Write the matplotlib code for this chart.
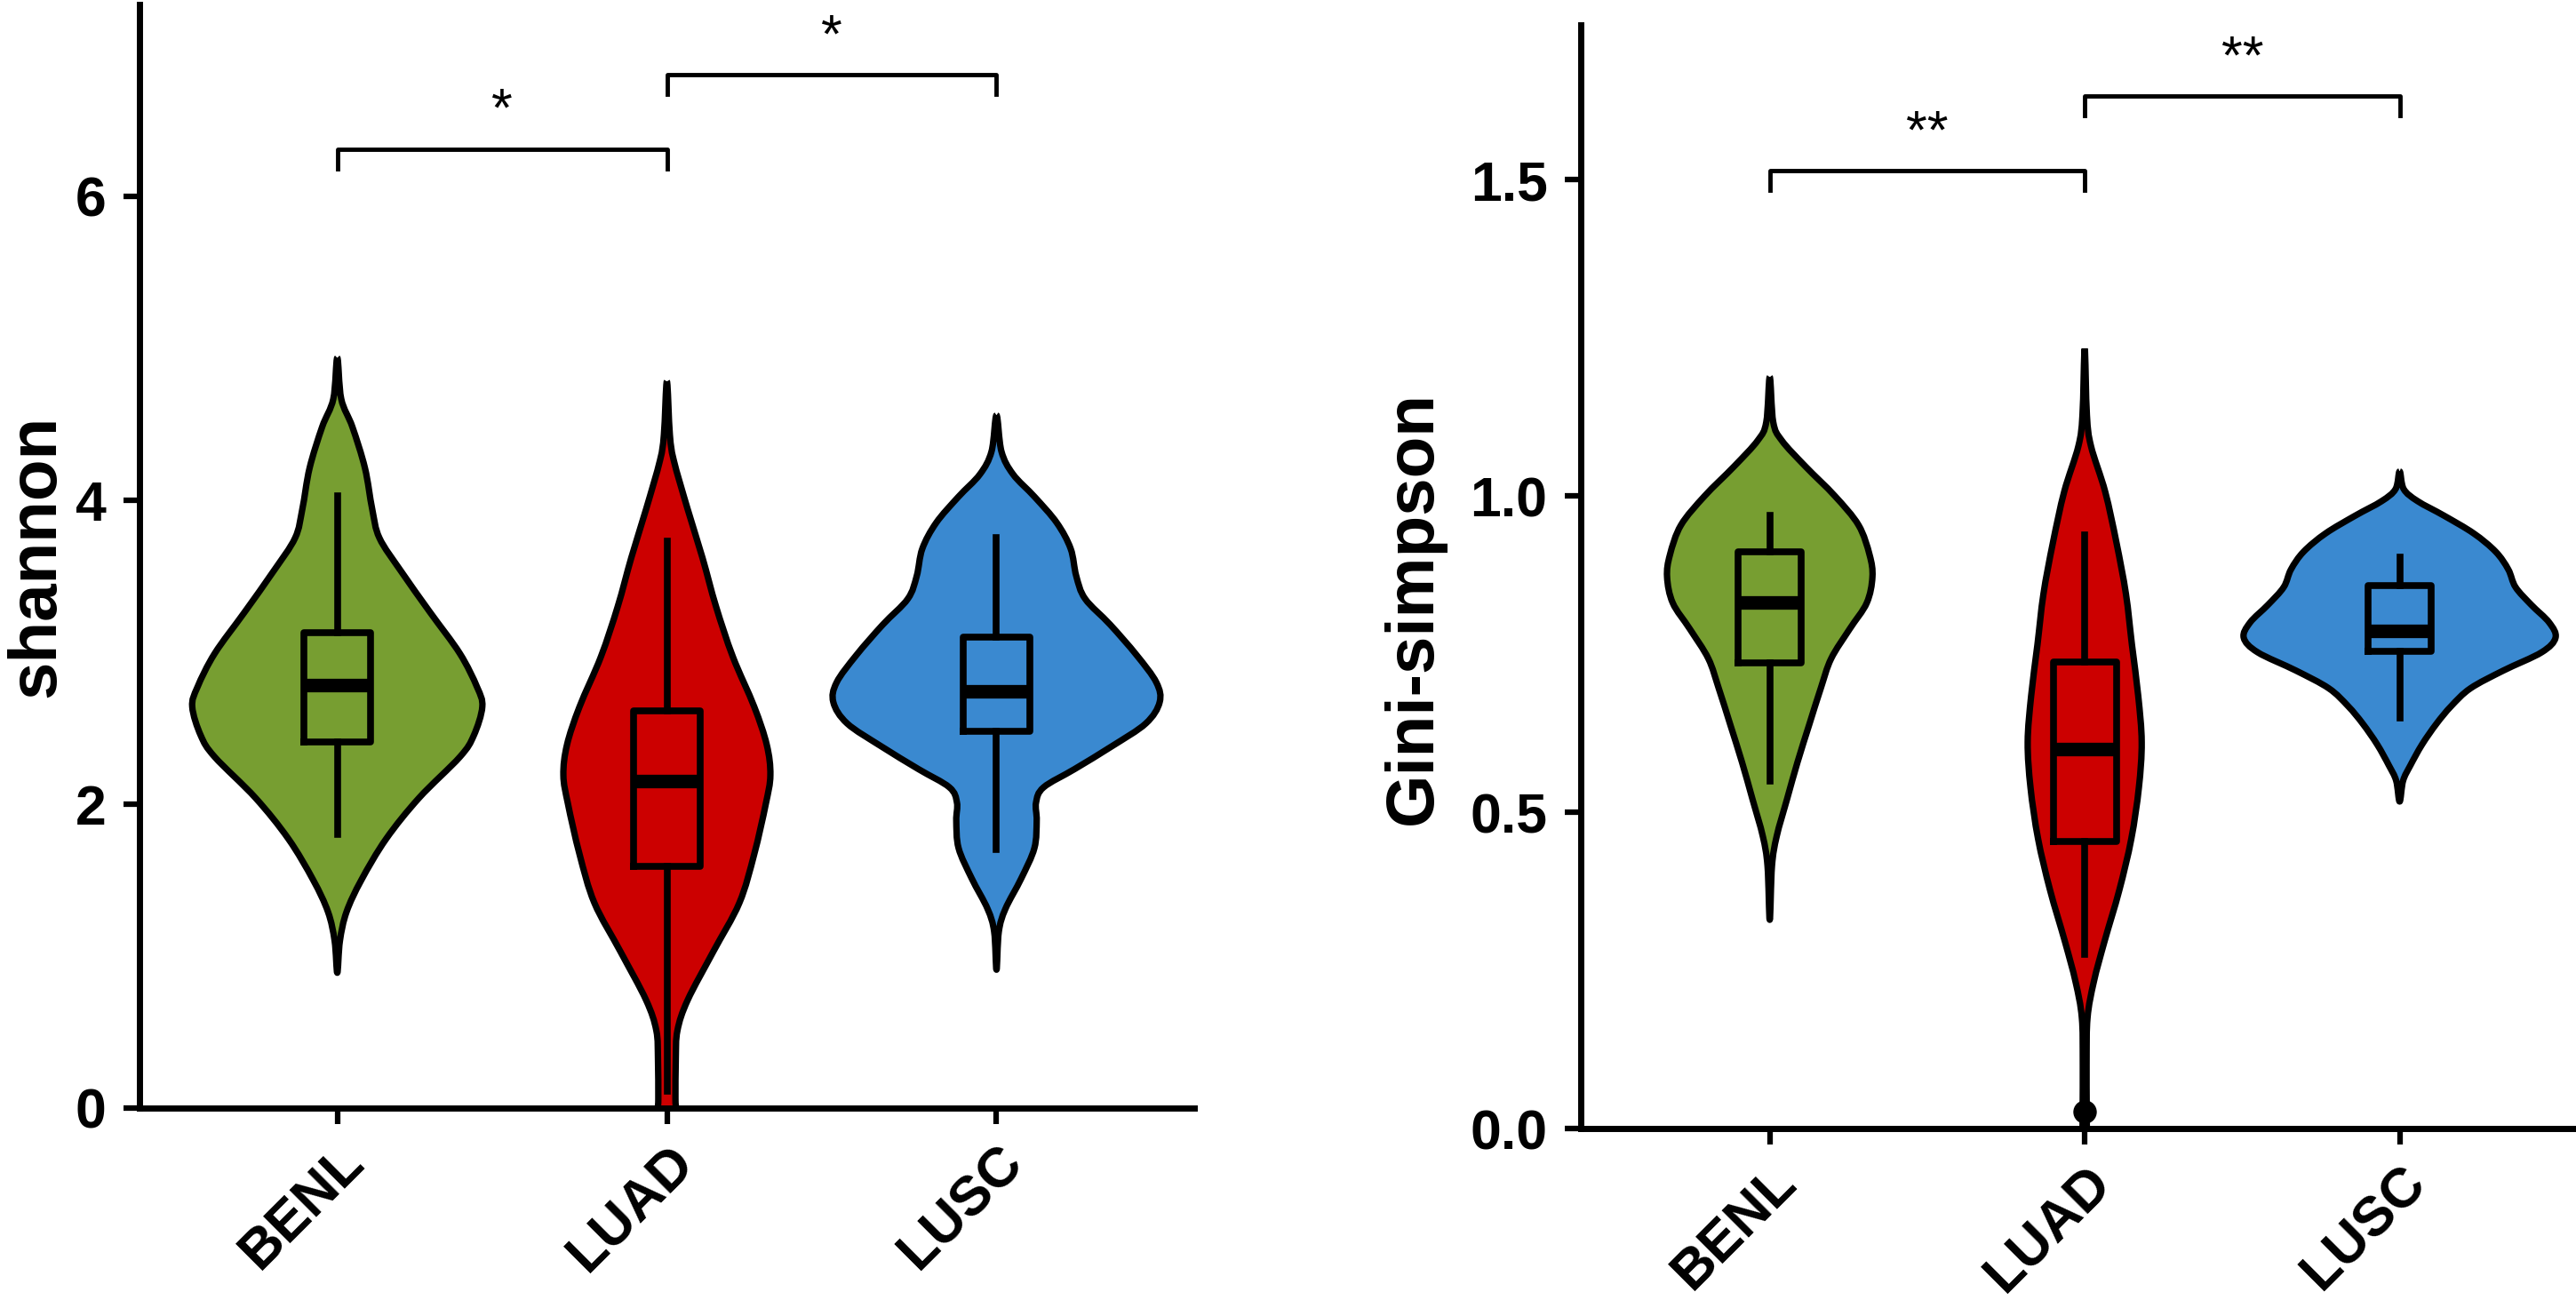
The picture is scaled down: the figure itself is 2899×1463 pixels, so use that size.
import numpy as np
import matplotlib
matplotlib.use("Agg")
from matplotlib import pyplot as plt
from matplotlib.path import Path
from matplotlib.patches import PathPatch

plt.rcParams['font.family'] = ['Liberation Sans', 'DejaVu Sans']

groups = ["BENL", "LUAD", "LUSC"]
colors = ["#779E31", "#CC0000", "#3A89D0"]

# violin outlines: value levels and half widths (category units)
sh_benl_y = [4.935, 4.665, 4.48, 4.21, 3.94, 3.75, 3.53, 3.26, 2.99, 2.77, 2.64, 2.45, 2.31, 2.04, 1.77, 1.50, 1.29, 1.10, 0.89]
sh_benl_w = [0, 0.012, 0.046, 0.084, 0.106, 0.128, 0.194, 0.282, 0.372, 0.424, 0.44, 0.414, 0.372, 0.248, 0.148, 0.073, 0.028, 0.008, 0]
sh_luad_y = [4.78, 4.43, 4.26, 3.94, 3.62, 3.30, 2.97, 2.64, 2.39, 2.19, 2.00, 1.67, 1.35, 1.03, 0.71, 0.51, 0.32, 0.06, -0.1]
sh_luad_w = [0, 0.009, 0.021, 0.063, 0.108, 0.149, 0.2, 0.265, 0.303, 0.314, 0.3, 0.265, 0.22, 0.141, 0.063, 0.032, 0.027, 0.026, 0.026]
sh_lusc_y = [4.558, 4.32, 4.17, 4.02, 3.85, 3.68, 3.50, 3.35, 3.18, 2.98, 2.80, 2.67, 2.53, 2.38, 2.23, 2.11, 2.01, 1.89, 1.71, 1.51, 1.31, 1.16, 0.91]
sh_lusc_w = [0, 0.015, 0.05, 0.116, 0.183, 0.225, 0.242, 0.269, 0.345, 0.425, 0.485, 0.495, 0.453, 0.35, 0.237, 0.143, 0.12, 0.122, 0.115, 0.075, 0.027, 0.007, 0]

gs_benl_y = [1.188, 1.117, 1.088, 1.047, 1.0, 0.954, 0.907, 0.872, 0.831, 0.790, 0.743, 0.696, 0.638, 0.579, 0.521, 0.462, 0.415, 0.33]
gs_benl_w = [0, 0.011, 0.038, 0.113, 0.207, 0.282, 0.317, 0.326, 0.308, 0.254, 0.195, 0.162, 0.125, 0.088, 0.055, 0.022, 0.007, 0]
gs_luad_y = [1.233, 1.128, 1.079, 1.007, 0.926, 0.845, 0.765, 0.684, 0.611, 0.539, 0.458, 0.377, 0.296, 0.232, 0.175, 0.10, -0.05]
gs_luad_w = [0, 0.007, 0.02, 0.065, 0.101, 0.131, 0.15, 0.17, 0.181, 0.172, 0.148, 0.11, 0.063, 0.029, 0.009, 0.006, 0.006]
gs_lusc_y = [1.039, 1.011, 0.992, 0.969, 0.941, 0.912, 0.884, 0.856, 0.828, 0.800, 0.776, 0.753, 0.724, 0.696, 0.668, 0.640, 0.607, 0.574, 0.550, 0.517]
gs_lusc_w = [0, 0.013, 0.057, 0.141, 0.235, 0.305, 0.345, 0.368, 0.418, 0.475, 0.495, 0.451, 0.329, 0.225, 0.164, 0.117, 0.071, 0.034, 0.011, 0]

# box statistics
sh_q1 = [2.41, 1.59, 2.48]
sh_med = [2.78, 2.15, 2.74]
sh_q3 = [3.13, 2.61, 3.10]
sh_lo = [1.80, 0.11, 1.70]
sh_hi = [4.03, 3.73, 3.75]
sh_out = [[], [], []]

gs_q1 = [0.736, 0.454, 0.755]
gs_med = [0.832, 0.600, 0.787]
gs_q3 = [0.912, 0.737, 0.858]
gs_lo = [0.550, 0.276, 0.649]
gs_hi = [0.970, 0.938, 0.903]
gs_out = [[], [0.026], []]

# significance brackets
sh_pairs = [(1, 2), (2, 3)]
sh_bracket_y = [6.31, 6.80]
sh_labels = ["*", "*"]
gs_pairs = [(1, 2), (2, 3)]
gs_bracket_y = [1.514, 1.632]
gs_labels = ["**", "**"]


def violin_path(p, yy, ww):
    # outline: right side top->bottom, then left side bottom->top, joined with smooth curves
    yy = list(yy)
    ww = list(ww)
    pts = [(p + w, y) for w, y in zip(ww, yy)]
    left = [(p - w, y) for w, y in zip(ww, yy)]
    left = left[::-1]
    if ww[-1] == 0:
        left = left[1:]
    if ww[0] == 0:
        left = left[:-1]
    pts = np.array(pts + left)
    n = len(pts)
    verts = [pts[0]]
    codes = [Path.MOVETO]
    for i in range(n):
        p0 = pts[i - 1]
        p1 = pts[i]
        p2 = pts[(i + 1) % n]
        p3 = pts[(i + 2) % n]
        verts += [p1 + (p2 - p0) / 6, p2 - (p3 - p1) / 6, p2]
        codes += [Path.CURVE4] * 3
    return Path(verts, codes)


def panel(ax, profiles, q1, med, q3, lo, hi, out, pairs, by, labels, drop, star_off):
    pos = [1, 2, 3]
    for p, (yy, ww), c in zip(pos, profiles, colors):
        ax.add_patch(PathPatch(violin_path(p, yy, ww), facecolor=c, edgecolor="black",
                               linewidth=5.2, joinstyle="round", zorder=2))
    stats = []
    for i in range(3):
        stats.append(dict(med=med[i], q1=q1[i], q3=q3[i], whislo=lo[i], whishi=hi[i], fliers=out[i]))
    ax.bxp(stats, positions=pos, widths=0.2, showcaps=False, manage_ticks=False,
           boxprops=dict(color="black", linewidth=5.5),
           whiskerprops=dict(color="black", linewidth=5.5),
           medianprops=dict(color="black", linewidth=11, solid_capstyle="butt"),
           flierprops=dict(marker="o", markerfacecolor="black", markeredgecolor="black", markersize=18),
           zorder=3)
    for (a, b), y, lab in zip(pairs, by, labels):
        ax.plot([a, a, b, b], [y - drop, y, y, y - drop], color="black", lw=3.5,
                clip_on=False, zorder=4)
        ax.text((a + b) / 2, y + star_off, lab, ha="center", va="baseline",
                fontsize=44, clip_on=False)
    ax.spines["top"].set_visible(False)
    ax.spines["right"].set_visible(False)
    ax.spines["left"].set_linewidth(5)
    ax.spines["bottom"].set_linewidth(5)
    ax.set_xticks(pos)
    ax.set_xticklabels(groups, rotation=45, ha="right", va="top", rotation_mode="anchor",
                       fontsize=44, fontweight="bold")
    ax.tick_params(axis="both", length=13, width=4.5, labelsize=45, pad=14)
    ax.tick_params(axis="x", pad=9)
    for t in ax.get_yticklabels():
        t.set_fontweight("bold")


fig = plt.figure(figsize=(28.99, 14.63), dpi=100)

ax1 = fig.add_axes([157 / 2899, 216 / 1463, (1344 - 157) / 2899, (1247 - 5) / 1463])
panel(ax1, [(sh_benl_y, sh_benl_w), (sh_luad_y, sh_luad_w), (sh_lusc_y, sh_lusc_w)],
      sh_q1, sh_med, sh_q3, sh_lo, sh_hi, sh_out, sh_pairs, sh_bracket_y, sh_labels, 0.13, 0.15)
ax1.set_xlim(0.4, 3.6)
ax1.set_ylim(0, 7.26)
ax1.set_yticks([0, 2, 4, 6])
ax1.set_yticklabels(["0", "2", "4", "6"], fontweight="bold")
ax1.set_ylabel("shannon", fontsize=55, fontweight="bold")
ax1.yaxis.set_label_coords(-0.067, 0.5)

ax2 = fig.add_axes([1779 / 2899, 193 / 1463, (2899 - 1779) / 2899, (1270 - 28) / 1463])
panel(ax2, [(gs_benl_y, gs_benl_w), (gs_luad_y, gs_luad_w), (gs_lusc_y, gs_lusc_w)],
      gs_q1, gs_med, gs_q3, gs_lo, gs_hi, gs_out, gs_pairs, gs_bracket_y, gs_labels, 0.03, 0.037)
ax2.set_xlim(0.4, 3.56)
ax2.set_ylim(0, 1.745)
ax2.set_yticks([0, 0.5, 1.0, 1.5])
ax2.set_yticklabels(["0.0", "0.5", "1.0", "1.5"], fontweight="bold")
ax2.set_ylabel("Gini-simpson", fontsize=55, fontweight="bold")
ax2.yaxis.set_label_coords(-0.136, 0.472)

fig.savefig("out.png", dpi=100)
